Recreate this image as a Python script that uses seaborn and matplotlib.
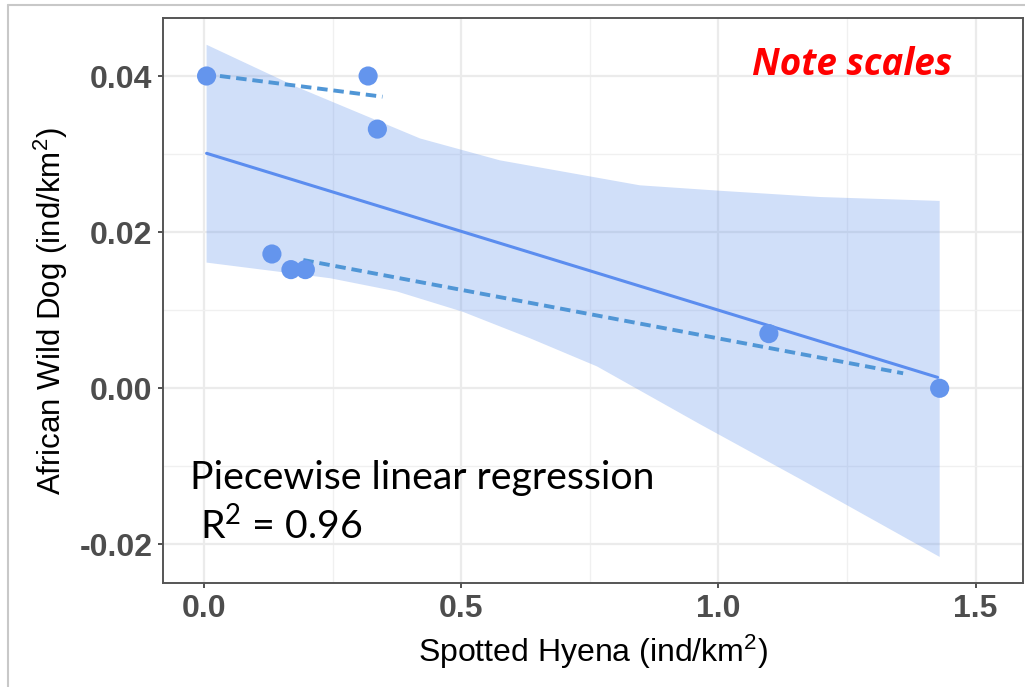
import matplotlib
matplotlib.use("Agg")
import matplotlib.pyplot as plt
import seaborn as sns
import pandas as pd
from matplotlib.patches import Polygon
from matplotlib.ticker import MultipleLocator

# ---- data ----
hyena = [0.005, 0.319, 0.337, 0.132, 0.169, 0.197, 1.098, 1.430]
wild_dog = [0.0400, 0.0400, 0.0332, 0.0172, 0.0152, 0.0152, 0.0070, 0.0000]

fit_x = [0.005, 1.426]
fit_y = [0.0301, 0.0014]

band_upper_x = [0.005, 0.180, 0.420, 0.575, 0.847, 1.003, 1.197, 1.430]
band_upper_y = [0.0440, 0.0386, 0.0320, 0.0292, 0.0260, 0.0253, 0.0245, 0.0240]
band_lower_x = [0.005, 0.245, 0.375, 0.503, 0.634, 0.764, 0.964, 1.158, 1.430]
band_lower_y = [0.0161, 0.0141, 0.0124, 0.0098, 0.0064, 0.0028, -0.0046, -0.0116, -0.0216]

seg1_x = [0.031, 0.347]
seg1_y = [0.0400, 0.03735]
seg2_x = [0.193, 1.359]
seg2_y = [0.01643, 0.00192]

x_ticks = [0.0, 0.5, 1.0, 1.5]
x_tick_labels = ["0.0", "0.5", "1.0", "1.5"]
y_ticks = [-0.02, 0.00, 0.02, 0.04]
y_tick_labels = ["-0.02", "0.00", "0.02", "0.04"]

# ---- style ----
sns.set_theme(style="white")
plt.rcParams["font.family"] = ["Liberation Sans", "DejaVu Sans"]
plt.rcParams["mathtext.default"] = "regular"

fig = plt.figure(figsize=(10.25, 6.87), dpi=100)
ax = fig.add_axes([163 / 1025, 1 - 583.3 / 687, (1023 - 163) / 1025, (583.3 - 18) / 687])

ax.set_xlim(-0.0797, 1.592)
ax.set_ylim(-0.02498, 0.04743)

ax.xaxis.set_minor_locator(MultipleLocator(0.25))
ax.yaxis.set_minor_locator(MultipleLocator(0.01))
ax.grid(True, which="major", color="#ebebeb", linewidth=1.6)
ax.grid(True, which="minor", color="#f0f0f0", linewidth=1.0)
ax.set_axisbelow(True)

# confidence band
poly = Polygon(list(zip(band_upper_x, band_upper_y)) + list(zip(band_lower_x[::-1], band_lower_y[::-1])),
               closed=True, facecolor="#6495ed", alpha=0.30, edgecolor="none", zorder=1.5)
ax.add_patch(poly)

# fitted line
sns.lineplot(x=fit_x, y=fit_y, ax=ax, color="#5b8def", linewidth=2.2, zorder=3)

# dashed segments
sns.lineplot(x=seg1_x, y=seg1_y, ax=ax, color="#5096d6", linewidth=2.8, zorder=3,
             linestyle=(0, (2.7, 1.5)))
sns.lineplot(x=seg2_x, y=seg2_y, ax=ax, color="#5096d6", linewidth=2.8, zorder=3,
             linestyle=(0, (2.7, 1.5)))

# points
df = pd.DataFrame({"hyena": hyena, "dog": wild_dog})
sns.scatterplot(data=df, x="hyena", y="dog", ax=ax, s=190, color="#6495ed",
                edgecolor="none", zorder=4)

ax.set_xticks(x_ticks)
ax.set_xticklabels(x_tick_labels)
ax.set_yticks(y_ticks)
ax.set_yticklabels(y_tick_labels)
ax.tick_params(axis="both", which="major", length=3.5, width=1.2, color="#333333",
               labelsize=23, labelcolor="#4d4d4d", pad=4, bottom=True, left=True)
ax.tick_params(axis="both", which="minor", length=0)
for lab in ax.get_xticklabels() + ax.get_yticklabels():
    lab.set_fontweight("bold")

for side in ["left", "bottom", "top", "right"]:
    ax.spines[side].set_visible(True)
    ax.spines[side].set_color("#555555")
    ax.spines[side].set_linewidth(1.4)

ax.set_xlabel("Spotted Hyena (ind/km$^2$)", fontsize=23, color="black")
ax.set_ylabel("African Wild Dog (ind/km$^2$)", fontsize=22.5, color="black")
ax.xaxis.set_label_coords(0.5, -0.088)
ax.yaxis.set_label_coords(-0.108, 0.482)

# annotations
ax.text(1.065, 0.0401, "Note scales", fontsize=26.5, color="#ff0000", fontweight="bold",
        fontstyle="italic", family=["Open Sans", "DejaVu Sans"], va="baseline", ha="left")
ax.text(-0.027, -0.0129, "Piecewise linear regression", fontsize=28.3, color="black",
        family=["Lato", "DejaVu Sans"], va="baseline", ha="left")
ax.text(-0.027, -0.0193, " R$^2$ = 0.96", fontsize=28.3, color="black",
        family=["Lato", "DejaVu Sans"], va="baseline", ha="left")

# outer light border of the image
fig.add_artist(plt.Line2D([8 / 1025, 8 / 1025], [0, 1 - 5 / 687], transform=fig.transFigure,
                          color="#c8c8c8", linewidth=1.5))
fig.add_artist(plt.Line2D([8 / 1025, 1], [1 - 5 / 687, 1 - 5 / 687], transform=fig.transFigure,
                          color="#c8c8c8", linewidth=1.5))

fig.savefig("out.png", dpi=100)
